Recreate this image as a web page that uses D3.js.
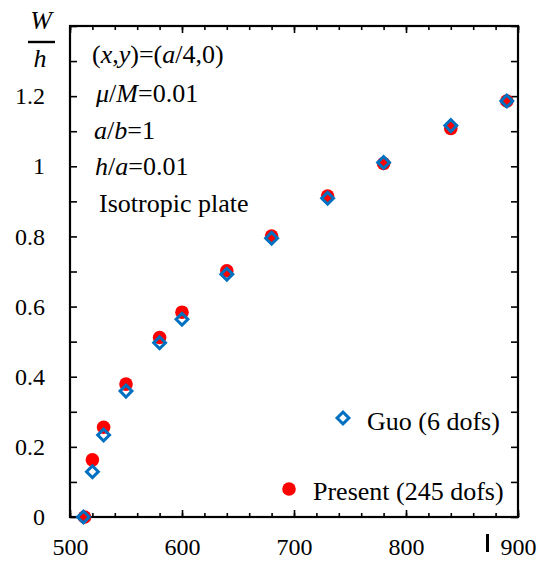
<!DOCTYPE html>
<html>
<head>
<meta charset="utf-8">
<script src="https://cdn.jsdelivr.net/npm/d3@7"></script>
<style>
  body { margin: 0; background: #fff; }
  svg { display: block; }
</style>
</head>
<body>
<svg id="chart" width="538" height="561"></svg>
<script>
// frequency-like x values and deflection W/h
const guoX = [512, 520, 530, 550, 580, 600, 640, 680, 730, 780, 840, 890];
const guoY = [0, 0.129, 0.234, 0.359, 0.497, 0.564, 0.692, 0.795, 0.909, 1.011, 1.116, 1.186];
const presentX = [513, 520, 530, 550, 580, 600, 640, 680, 730, 780, 840, 890];
const presentY = [0, 0.163, 0.256, 0.379, 0.512, 0.584, 0.702, 0.801, 0.915, 1.008, 1.108, 1.186];

const xTicks = [500, 600, 700, 800, 900];
const yTicks = [0, 0.2, 0.4, 0.6, 0.8, 1, 1.2];
const notes = ["(x,y)=(a/4,0)", "μ/M=0.01", "a/b=1", "h/a=0.01", "Isotropic plate"];

const FONT = "Liberation Serif";
const svg = d3.select("#chart");
const plotLeft = 70, plotRight = 518, plotTop = 26, plotBottom = 517;

const x = d3.scaleLinear().domain([500, 900]).range([plotLeft, plotRight]);
const y = d3.scaleLinear().domain([0, 1.4]).range([plotBottom, plotTop]);

const minorX = d3.range(500, 901, 20);
const minorY = d3.range(0, 1.41, 0.1);

// inward ticks on all four sides
function tickStyle(g) {
  g.select(".domain").remove();
  g.selectAll("line").attr("stroke", "#000").attr("stroke-width", 1.6);
  g.selectAll("text").style("font-family", FONT).style("font-size", "24px").attr("fill", "#000");
}

svg.append("g").attr("transform", `translate(0,${plotBottom})`)
  .call(d3.axisBottom(x).tickValues(minorX).tickSize(-4).tickFormat(""))
  .call(tickStyle);
svg.append("g").attr("transform", `translate(0,${plotBottom})`)
  .call(d3.axisBottom(x).tickValues(xTicks).tickSize(-7).tickPadding(21).tickFormat(d3.format("d")))
  .call(tickStyle);

svg.append("g").attr("transform", `translate(0,${plotTop})`)
  .call(d3.axisTop(x).tickValues(minorX).tickSize(-4).tickFormat(""))
  .call(tickStyle);
svg.append("g").attr("transform", `translate(0,${plotTop})`)
  .call(d3.axisTop(x).tickValues(xTicks).tickSize(-7).tickFormat(""))
  .call(tickStyle);

svg.append("g").attr("transform", `translate(${plotLeft},0)`)
  .call(d3.axisLeft(y).tickValues(minorY).tickSize(-7).tickFormat(""))
  .call(tickStyle);
svg.append("g").attr("transform", `translate(${plotLeft},0)`)
  .call(d3.axisLeft(y).tickValues(yTicks).tickSize(0).tickPadding(25).tickFormat(d => String(+d.toFixed(1))))
  .call(tickStyle);

svg.append("g").attr("transform", `translate(${plotRight},0)`)
  .call(d3.axisRight(y).tickValues(minorY).tickSize(-7).tickFormat(""))
  .call(tickStyle);

svg.append("rect")
  .attr("x", plotLeft).attr("y", plotTop)
  .attr("width", plotRight - plotLeft).attr("height", plotBottom - plotTop)
  .attr("fill", "none").attr("stroke", "#000").attr("stroke-width", 2.2);

// stray bar next to 900 label
svg.append("rect").attr("x", 486).attr("y", 534).attr("width", 3).attr("height", 18).attr("fill", "#000");

function label(xp, yp, size) {
  return svg.append("text").attr("x", xp).attr("y", yp)
    .style("font-family", FONT).style("font-size", size + "px");
}

// y title W/h
label(41, 29, 26).attr("text-anchor", "middle").style("font-style", "italic").text("W");
svg.append("line").attr("x1", 28).attr("x2", 55).attr("y1", 42).attr("y2", 42)
  .attr("stroke", "#000").attr("stroke-width", 2.4);
label(40, 67, 26).attr("text-anchor", "middle").style("font-style", "italic").text("h");

// annotation block, italic letters marked
const noteParts = [
  [["(", 0], ["x", 1], [",", 0], ["y", 1], [")=(", 0], ["a", 1], ["/4,0)", 0]],
  [["μ", 1], ["/", 0], ["M", 1], ["=0.01", 0]],
  [["a", 1], ["/", 0], ["b", 1], ["=1", 0]],
  [["h", 1], ["/", 0], ["a", 1], ["=0.01", 0]],
  [[notes[4], 0]]
];
const noteX = [92, 96, 94, 95, 99];
const noteY = [63, 102, 139, 175, 212];
noteParts.forEach((parts, i) => {
  const t = label(noteX[i], noteY[i], 26);
  parts.forEach(p => t.append("tspan").style("font-style", p[1] ? "italic" : "normal").text(p[0]));
});

const red = "#ff0000", blue = "#0070c0";
const diamond = d3.symbol().type(d3.symbolSquare).size(70);

svg.append("g").selectAll("circle")
  .data(presentX.map((v, i) => [v, presentY[i]]))
  .join("circle")
  .attr("cx", d => x(d[0])).attr("cy", d => y(d[1]))
  .attr("r", 6.8).attr("fill", red);

svg.append("g").selectAll("path")
  .data(guoX.map((v, i) => [v, guoY[i]]))
  .join("path")
  .attr("d", diamond)
  .attr("transform", d => `translate(${x(d[0])},${y(d[1])}) rotate(45)`)
  .attr("fill", "none").attr("stroke", blue).attr("stroke-width", 3);

// legend
svg.append("path").attr("d", diamond)
  .attr("transform", "translate(343,418) rotate(45)")
  .attr("fill", "none").attr("stroke", blue).attr("stroke-width", 3);
label(367, 430, 26).text("Guo (6 dofs)");
svg.append("circle").attr("cx", 289).attr("cy", 489).attr("r", 6.8).attr("fill", red);
label(313, 500, 26).text("Present (245 dofs)");
</script>
</body>
</html>
